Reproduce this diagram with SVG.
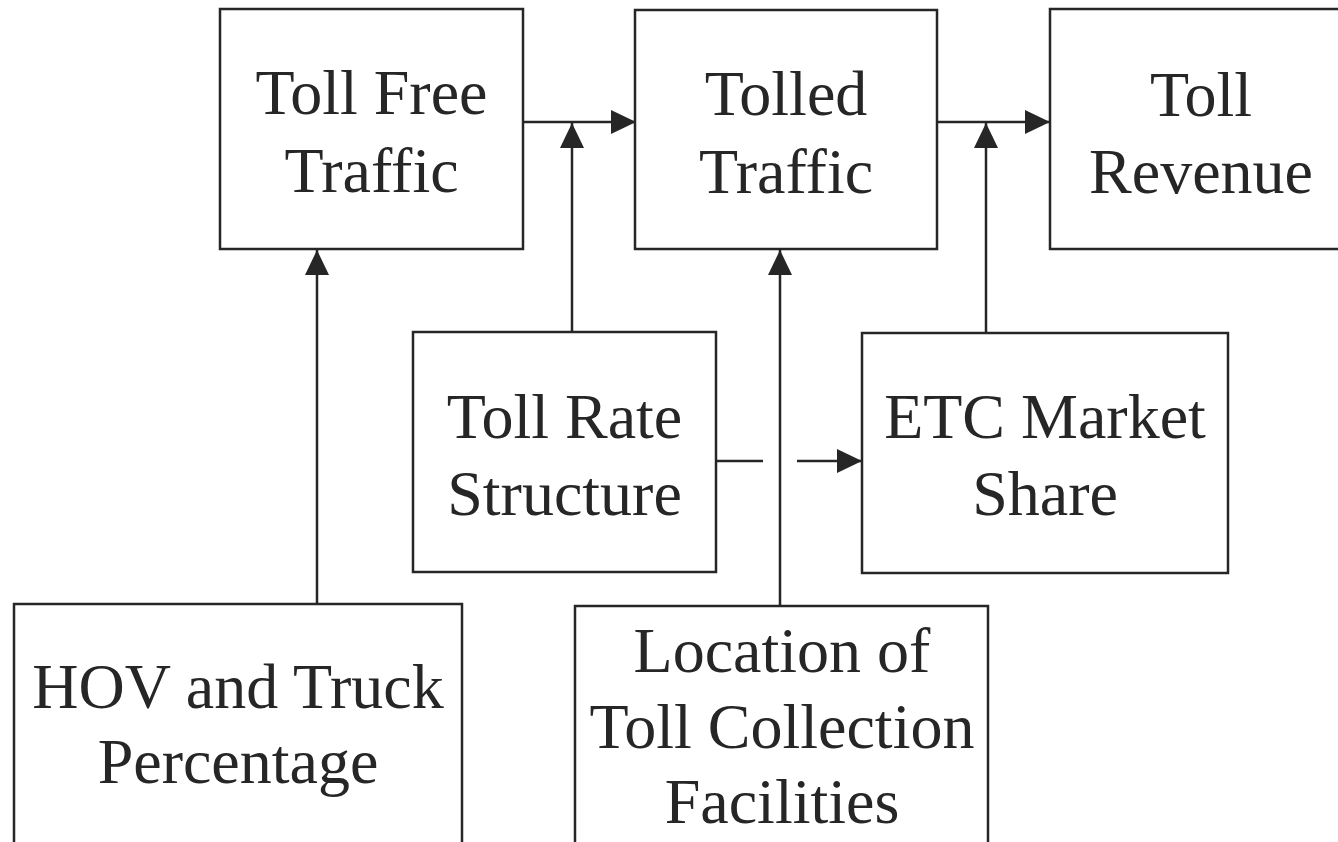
<svg xmlns="http://www.w3.org/2000/svg" width="1338" height="842" viewBox="0 0 1338 842">
  <style>
    .box { fill: #ffffff; stroke: #262626; stroke-width: 2.5; }
    .lbl { font-family: "Liberation Serif", "Times New Roman", serif; font-size: 64px; fill: #262626; text-anchor: middle; }
    .con { stroke: #262626; stroke-width: 2.5; fill: none; }
  </style>
  <defs>
    <marker id="arr" markerUnits="userSpaceOnUse" markerWidth="26" markerHeight="24" refX="25" refY="12" orient="auto">
      <path d="M0,0 L25,12 L0,24 Z" fill="#262626"/>
    </marker>
  </defs>
  <rect x="0" y="0" width="1338" height="842" fill="#ffffff"/>

  <g id="connectors">
    <line class="con" x1="523" y1="122" x2="636" y2="122" marker-end="url(#arr)"/>
    <line class="con" x1="572" y1="332" x2="572" y2="123" marker-end="url(#arr)"/>
    <line class="con" x1="937" y1="122" x2="1050" y2="122" marker-end="url(#arr)"/>
    <line class="con" x1="986" y1="333" x2="986" y2="123" marker-end="url(#arr)"/>
    <line class="con" x1="317" y1="604" x2="317" y2="250" marker-end="url(#arr)"/>
    <line class="con" x1="780" y1="606" x2="780" y2="250" marker-end="url(#arr)"/>
    <line class="con" x1="716" y1="461" x2="763" y2="461"/>
    <line class="con" x1="797" y1="461" x2="862" y2="461" marker-end="url(#arr)"/>
  </g>

  <g id="toll-free-traffic">
    <rect class="box" x="220" y="9" width="303" height="240"/>
    <text class="lbl" x="371.5" y="114">Toll Free</text>
    <text class="lbl" x="371.5" y="192">Traffic</text>
  </g>
  <g id="tolled-traffic">
    <rect class="box" x="635" y="10" width="302" height="239"/>
    <text class="lbl" x="786" y="115">Tolled</text>
    <text class="lbl" x="786" y="193">Traffic</text>
  </g>
  <g id="toll-revenue">
    <rect class="box" x="1050" y="9" width="302" height="240"/>
    <text class="lbl" x="1201" y="116">Toll</text>
    <text class="lbl" x="1201" y="193">Revenue</text>
  </g>
  <g id="toll-rate-structure">
    <rect class="box" x="413" y="332" width="303" height="240"/>
    <text class="lbl" x="564.5" y="438">Toll Rate</text>
    <text class="lbl" x="564.5" y="515">Structure</text>
  </g>
  <g id="etc-market-share">
    <rect class="box" x="862" y="333" width="366" height="240"/>
    <text class="lbl" x="1045" y="438">ETC Market</text>
    <text class="lbl" x="1045" y="515">Share</text>
  </g>
  <g id="hov-truck-percentage">
    <rect class="box" x="14" y="604" width="448" height="250"/>
    <text class="lbl" x="238" y="708">HOV and Truck</text>
    <text class="lbl" x="238" y="783">Percentage</text>
  </g>
  <g id="location-toll-collection">
    <rect class="box" x="575" y="606" width="413" height="250"/>
    <text class="lbl" x="782" y="672">Location of</text>
    <text class="lbl" x="782" y="748">Toll Collection</text>
    <text class="lbl" x="782" y="823">Facilities</text>
  </g>
</svg>
